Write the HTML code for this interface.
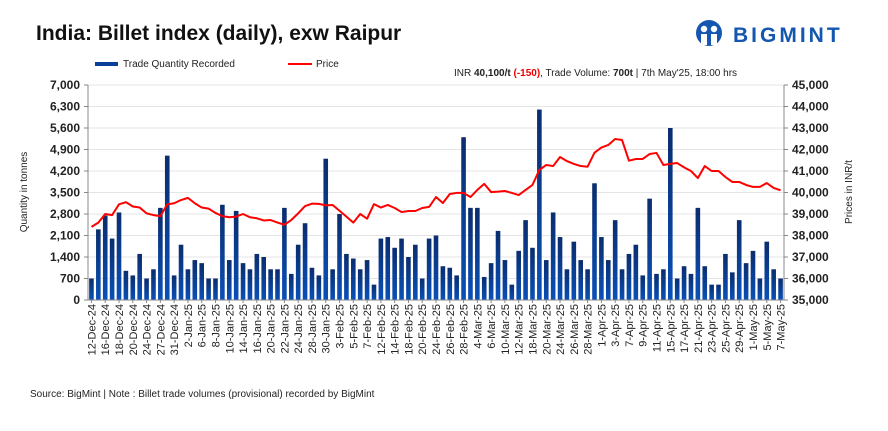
<!DOCTYPE html>
<html><head><meta charset="utf-8"><style>
body{margin:0;background:#fff;font-family:"Liberation Sans",sans-serif;}
#wrap{position:relative;width:888px;height:431px;overflow:hidden;}
</style></head><body>
<div id="wrap">
<svg id="chart" width="888" height="431" xmlns="http://www.w3.org/2000/svg">
<defs><linearGradient id="bg" x1="0" y1="0" x2="0" y2="1"><stop offset="0" stop-color="#0a2d6e"/><stop offset="1" stop-color="#0a50b8"/></linearGradient></defs>
<text x="36" y="40" font-size="21" font-weight="bold" fill="#111">India: Billet index (daily), exw Raipur</text>
<g>
<circle cx="709" cy="33" r="13" fill="#1557b0"/>
<circle cx="704" cy="29" r="3.2" fill="#fff"/><circle cx="714" cy="29" r="3.2" fill="#fff"/>
<rect x="701" y="34" width="6" height="11" fill="#fff"/><rect x="711" y="34" width="6" height="11" fill="#fff"/>
<text x="733" y="42" font-size="21" font-weight="bold" fill="#1557b0" letter-spacing="3">BIGMINT</text>
</g>
<g>
<rect x="95" y="62" width="23" height="4" fill="#0a3f9a"/>
<text x="123" y="67" font-size="10" fill="#222">Trade Quantity Recorded</text>
<rect x="288" y="63" width="24" height="2" fill="#f00"/>
<text x="316" y="67" font-size="10" fill="#222">Price</text>
</g>
<text x="454" y="76" font-size="10" fill="#222">INR <tspan font-weight="bold">40,100/t</tspan> <tspan font-weight="bold" fill="#e00">(-150)</tspan>, Trade Volume: <tspan font-weight="bold">700t</tspan>  | 7th May'25, 18:00 hrs</text>
<g id="grid"></g><g id="bars"></g><g id="line"></g><g id="axes"></g>
<text transform="translate(27,192) rotate(-90)" text-anchor="middle" font-size="10" fill="#222">Quantity in tonnes</text>
<text transform="translate(852,192) rotate(-90)" text-anchor="middle" font-size="10" fill="#222">Prices in INR/t</text>
<text x="30" y="397" font-size="10" fill="#222">Source: BigMint | Note : Billet trade volumes (provisional) recorded by BigMint</text>
</svg>
</div>
<script>
const tickLabels=["12-Dec-24","16-Dec-24","18-Dec-24","20-Dec-24","24-Dec-24","27-Dec-24","31-Dec-24","2-Jan-25","6-Jan-25","8-Jan-25","10-Jan-25","14-Jan-25","16-Jan-25","20-Jan-25","22-Jan-25","24-Jan-25","28-Jan-25","30-Jan-25","3-Feb-25","5-Feb-25","7-Feb-25","12-Feb-25","14-Feb-25","18-Feb-25","20-Feb-25","24-Feb-25","26-Feb-25","28-Feb-25","4-Mar-25","6-Mar-25","10-Mar-25","12-Mar-25","18-Mar-25","20-Mar-25","24-Mar-25","26-Mar-25","28-Mar-25","1-Apr-25","3-Apr-25","7-Apr-25","9-Apr-25","11-Apr-25","15-Apr-25","17-Apr-25","21-Apr-25","23-Apr-25","25-Apr-25","29-Apr-25","1-May-25","5-May-25","7-May-25"];
const quantity=[700,2300,2750,2000,2850,950,800,1500,700,1000,3000,4700,800,1800,1000,1300,1200,700,700,3100,1300,2900,1200,1000,1500,1400,1000,1000,3000,850,1800,2500,1050,800,4600,1000,2800,1500,1350,1000,1300,500,2000,2050,1700,2000,1400,1800,700,2000,2100,1100,1050,800,5300,3000,3000,750,1200,2250,1300,500,1600,2600,1700,6200,1300,2850,2050,1000,1900,1300,1000,3800,2050,1300,2600,1000,1500,1800,800,3300,850,1000,5600,700,1100,850,3000,1100,500,500,1500,900,2600,1200,1600,700,1900,1000,700];
const price=[38400,38600,39000,38950,39450,39550,39350,39300,39030,38950,38900,39450,39500,39650,39750,39500,39300,39250,39050,38900,38850,38880,39000,38850,38800,38700,38720,38600,38500,38720,39030,39370,39480,39470,39400,39420,39150,38880,38600,39000,38780,39460,39300,39420,39280,39090,39140,39140,39280,39330,39790,39510,39930,39980,39980,39790,40120,40400,40020,40040,40070,39980,39880,40120,40350,41050,41280,41230,41650,41460,41330,41230,41200,41850,42090,42210,42490,42440,41480,41560,41560,41790,41840,41280,41330,41370,41170,41000,40670,41230,41000,41000,40720,40490,40490,40350,40260,40260,40440,40210,40100];
const leftTicks=[0,700,1400,2100,2800,3500,4200,4900,5600,6300,7000];
const rightTicks=[35000,36000,37000,38000,39000,40000,41000,42000,43000,44000,45000];
const NS="http://www.w3.org/2000/svg";
const X0=88,X1=784,YT=85,YB=300;
const n=quantity.length,step=(X1-X0)/n;
const xc=i=>X0+step*(i+0.5);
const yL=v=>YB-(v/7000)*(YB-YT);
const yR=v=>YB-((v-35000)/10000)*(YB-YT);
const fmt=v=>v.toLocaleString('en-US');
function mk(t,a,p){const e=document.createElementNS(NS,t);for(const k in a)e.setAttribute(k,a[k]);p.appendChild(e);return e;}
const grid=document.getElementById('grid'),bars=document.getElementById('bars'),line=document.getElementById('line'),axes=document.getElementById('axes');
leftTicks.forEach((v,i)=>{
 const g=mk('line',{x1:X0,x2:X1,y1:yL(v),y2:yL(v),stroke:'#e4e4e4','stroke-width':1},grid);
 
 
 mk('line',{x1:X0-4,x2:X0,y1:yL(v),y2:yL(v),stroke:'#888'},axes);
 const t=mk('text',{x:X0-8,y:yL(v)+4,'text-anchor':'end','font-size':12,'font-weight':'bold',fill:'#222'},axes);
 t.textContent=fmt(v);
 
 
});
rightTicks.forEach(v=>{
 mk('line',{x1:X1,x2:X1+4,y1:yR(v),y2:yR(v),stroke:'#888'},axes);
 const t=mk('text',{x:X1+8,y:yR(v)+4,'font-size':12,'font-weight':'bold',fill:'#222'},axes);
 t.textContent=fmt(v);
 
 
});
mk('line',{x1:X0,x2:X0,y1:YT,y2:YB,stroke:'#888'},axes);
mk('line',{x1:X1,x2:X1,y1:YT,y2:YB,stroke:'#888'},axes);
mk('line',{x1:X0,x2:X1,y1:YB,y2:YB,stroke:'#888'},axes);
quantity.forEach((v,i)=>{
 const r=mk('rect',{x:xc(i)-2.3,y:yL(v),width:4.6,height:YB-yL(v),fill:'url(#bg)'},bars);
 
 
});
const pl=mk('polyline',{points:price.map((v,i)=>xc(i)+','+yR(v)).join(' '),fill:'none',stroke:'#f00','stroke-width':2,'stroke-linejoin':'round'},line);


tickLabels.forEach((lab,k)=>{
 const x=xc(k*2);
 mk('line',{x1:x,x2:x,y1:YB,y2:YB+3,stroke:'#888'},axes);
 const t=mk('text',{transform:`translate(${x+4},${YB+4}) rotate(-90)`,'text-anchor':'end','font-size':11,fill:'#222'},axes);
 t.textContent=lab;
 
 
});
</script>
</body></html>
